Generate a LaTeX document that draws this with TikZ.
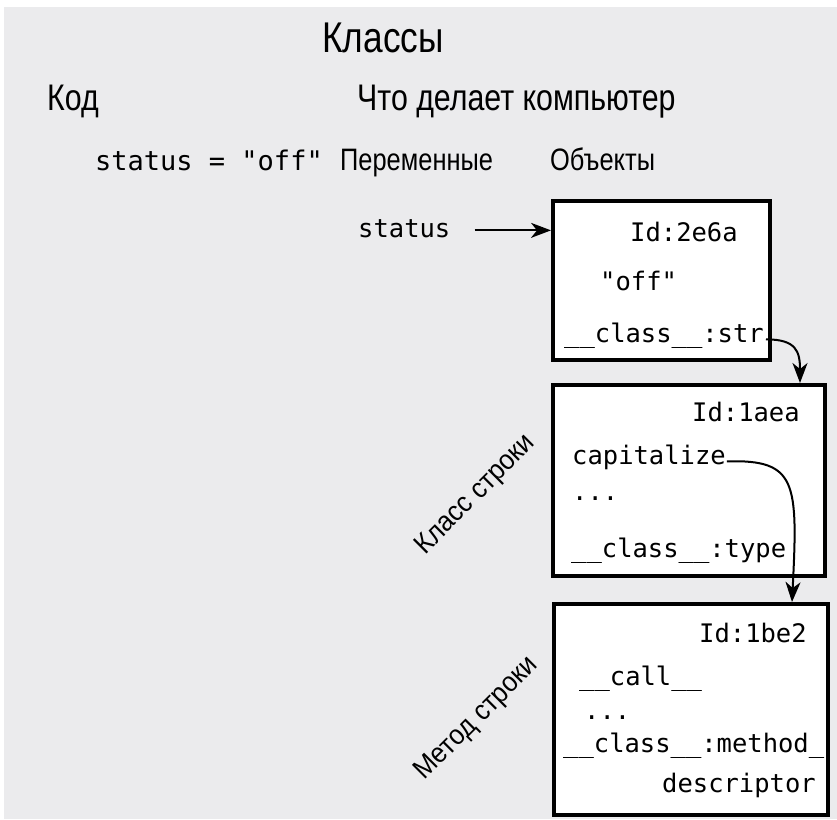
\documentclass[tikz,border=0pt]{standalone}
\usepackage{fontspec}
\setmainfont{Liberation Sans}[FakeStretch=0.82]
\newfontfamily\rotfont{Liberation Sans}[FakeStretch=0.92]
\setmonofont{DejaVu Sans Mono}
\usetikzlibrary{arrows.meta}
\definecolor{bggray}{HTML}{EBEBED}
\tikzset{
  title/.style={inner sep=0pt, font=\fontsize{43}{48}\selectfont, anchor=base},
  head/.style={inner sep=0pt, font=\fontsize{37}{42}\selectfont, anchor=base west},
  sub/.style={inner sep=0pt, font=\fontsize{31}{36}\selectfont, anchor=base west},
  rot/.style={inner sep=0pt, font=\rotfont\fontsize{28}{32}\selectfont, rotate=45},
  mono/.style={inner sep=0pt, font=\fontsize{25.5}{30}\selectfont\ttfamily, anchor=base west},
  objbox/.style={draw=black, line width=4pt, fill=white, inner sep=0pt},
  arr/.style={line width=2pt, -{Stealth[length=20pt, width=15pt, inset=6pt]}},
}
\begin{document}
\begin{tikzpicture}[x=1pt, y=-1pt]
\useasboundingbox (0,0) rectangle (837,819);
\fill[bggray] (4,7) rectangle (837,819);

\node[title] (klassy) at (383,52) {Классы};
\node[head] (kod) at (47,110) {Код};
\node[head] (chto) at (357,110) {Что делает компьютер};
\node[mono, font=\fontsize{27}{30}\selectfont\ttfamily] (code) at (95,170) {status = "off"};
\node[sub] (perem) at (340,170) {Переменные};
\node[sub] (obj) at (550,170) {Объекты};

\node[mono] (statusvar) at (358,237) {status};

% boxes
\node[objbox, minimum width=217pt, minimum height=159pt] (box1) at (661.5,280.5) {};
\node[objbox, minimum width=272pt, minimum height=191pt] (box2) at (689,480.5) {};
\node[objbox, minimum width=274pt, minimum height=211pt] (box3) at (691,709.5) {};

% box 1 texts
\node[mono] (id1) at (630,241) {Id:2e6a};
\node[mono] (off) at (600,290) {"off"};
\node[mono] (strtxt) at (564,342) {\_\_class\_\_:str};

% box 2 texts
\node[mono] (id2) at (692,421) {Id:1aea};
\node[mono] (cap) at (572,464) {capitalize};
\node[mono] (dots2) at (572,500) {...};
\node[mono] (typetxt) at (571,557) {\_\_class\_\_:type};

% box 3 texts
\node[mono] (id3) at (699,642) {Id:1be2};
\node[mono] (call) at (579,685) {\_\_call\_\_};
\node[mono] (dots3) at (584,719) {...};
\node[mono] (meth) at (563,752) {\_\_class\_\_:method\_};
\node[mono] (descr) at (662,792) {descriptor};

% rotated labels
\node[rot] (klstr) at (476,495) {Класс строки};
\node[rot] (metstr) at (477,719) {Метод строки};

% connectors
\coordinate (a1s) at ([xshift=24pt,yshift=4pt]statusvar.mid east);
\draw[arr] (a1s) -- (a1s -| box1.west);
\coordinate (b2in) at ([xshift=249pt]box2.north west);
\draw[arr] ([xshift=2pt]strtxt.mid east) .. controls +(30,0) and +(0,-32) .. (b2in);
\coordinate (b3in) at ([xshift=240pt]box3.north west);
\draw[arr] ([xshift=1pt]cap.mid east) .. controls +(70,-2) and +(6,-120) .. (b3in);
\end{tikzpicture}
\end{document}
